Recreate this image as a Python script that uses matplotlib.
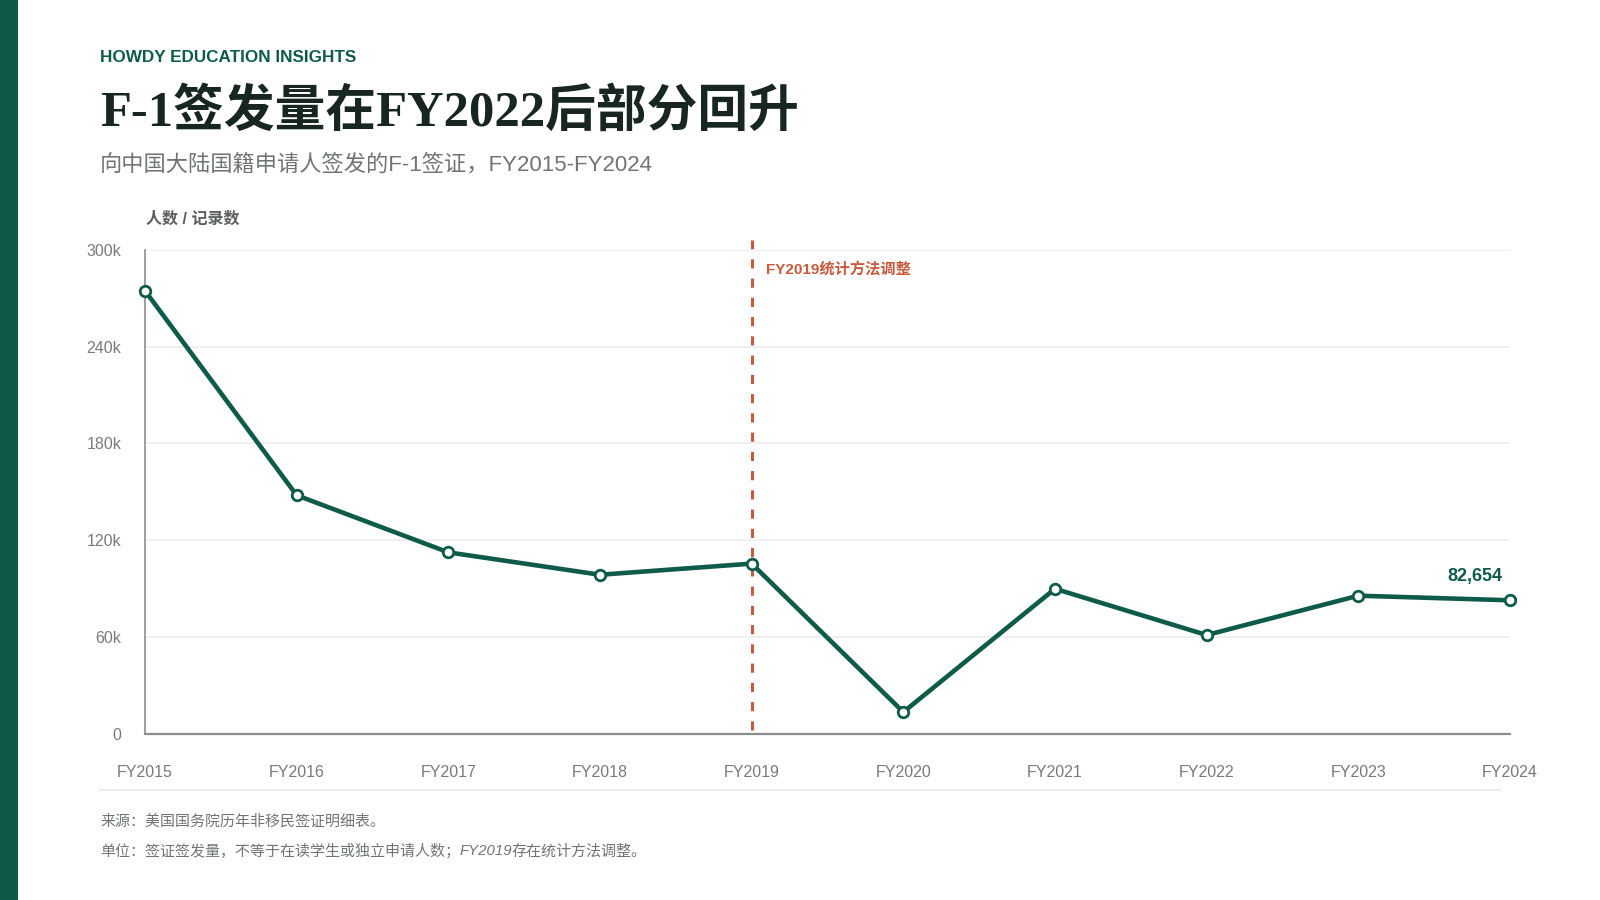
import matplotlib
matplotlib.use("Agg")
import matplotlib.pyplot as plt
from matplotlib.patches import Rectangle
from matplotlib.lines import Line2D

# ---- data ----
years = ["FY2015", "FY2016", "FY2017", "FY2018", "FY2019",
         "FY2020", "FY2021", "FY2022", "FY2023", "FY2024"]
visas = [274700, 147800, 112400, 98500, 105400, 13300, 89800, 61100, 85500, 82654]
y_ticks = [0, 60000, 120000, 180000, 240000, 300000]
y_tick_labels = ["0", "60k", "120k", "180k", "240k", "300k"]

kicker = "HOWDY EDUCATION INSIGHTS"
title = "F-1签发量在FY2022后部分回升"
subtitle = "向中国大陆国籍申请人签发的F-1签证，FY2015-FY2024"
y_label = "人数 / 记录数"
event_year = "FY2019"
event_label = "FY2019统计方法调整"
source_note = "来源：美国国务院历年非移民签证明细表。"
unit_note_a = "单位：签证签发量，不等于在读学生或独立申请人数；"
unit_note_b = "FY2019"
unit_note_c = "存在统计方法调整。"

GREEN = "#0f5b49"
DARK = "#17261f"
GREY = "#6f7572"
CORAL = "#c65b40"

SANS = ["Liberation Sans", "Noto Sans CJK SC", "DejaVu Sans"]
SERIF = ["Liberation Serif", "Noto Sans CJK SC", "DejaVu Sans"]
plt.rcParams["font.family"] = SANS

W, H = 1600, 900
fig = plt.figure(figsize=(16, 9), dpi=100)
fig.patch.set_facecolor("white")

def fx(px):
    return px / W

def fy(py):
    return 1 - py / H

# left brand bar
fig.add_artist(Rectangle((0, 0), fx(18), 1, transform=fig.transFigure,
                         facecolor="#0e5a48", edgecolor="none"))

# header texts
fig.text(fx(100), fy(57), kicker, fontsize=12.3, fontweight="bold",
         color=GREEN, va="center", ha="left", family=SANS)
fig.text(fx(100), fy(112), title, fontsize=36.5, fontweight="bold",
         color=DARK, va="center", ha="left", family=SERIF)
fig.text(fx(100), fy(165), subtitle, fontsize=16, color=GREY,
         va="center", ha="left", family=SANS)
fig.text(fx(146), fy(219), y_label, fontsize=11.5, fontweight="bold",
         color="#5a5f5c", va="center", ha="left", family=SANS)

# axes
left, right = 145, 1510
top, bottom = 250, 733.5
ax = fig.add_axes([fx(left), fy(bottom), fx(right - left), (bottom - top) / H])
x = list(range(len(years)))
ax.set_xlim(0, len(years) - 1)
ax.set_ylim(0, 300000)

ax.set_yticks(y_ticks)
ax.set_yticklabels(y_tick_labels)
ax.set_xticks(x)
ax.set_xticklabels(years)
ax.tick_params(axis="y", length=0, pad=17, labelsize=11.5, labelcolor="#777b79")
ax.tick_params(axis="x", length=0, pad=22.5, labelsize=11.5, labelcolor="#777b79")
ax.grid(axis="y", color="#ebebeb", linewidth=1.1)
ax.set_axisbelow(True)
for s in ("top", "right"):
    ax.spines[s].set_visible(False)
ax.spines["left"].set_color("#8a8d8b")
ax.spines["left"].set_linewidth(1.2)
ax.spines["bottom"].set_color("#8a8d8b")
ax.spines["bottom"].set_linewidth(1.6)

# event line
ei = years.index(event_year)
ax.axvline(ei, ymin=0.007, ymax=1.02, color=CORAL, linewidth=2.2,
           linestyle=(0, (3, 3.3)), clip_on=False, zorder=2)
ax.annotate(event_label, xy=(ei, 1), xycoords=("data", "axes fraction"),
            xytext=(14, -19), textcoords="offset pixels",
            fontsize=11, fontweight="bold", color=CORAL,
            va="center", ha="left", family=SANS)

# series
ax.plot(x, visas, color=GREEN, linewidth=3.3, marker="o", markersize=7.6,
        markerfacecolor="white", markeredgecolor=GREEN, markeredgewidth=2.0,
        clip_on=False, zorder=3)

# last value label
ax.annotate(f"{visas[-1]:,}", xy=(x[-1], visas[-1]), xytext=(-8, 24),
            textcoords="offset pixels", fontsize=13, fontweight="bold",
            color=GREEN, ha="right", va="center", family=SANS)

# separator and notes
fig.add_artist(Line2D([fx(100), fx(1500)], [fy(790), fy(790)],
                      transform=fig.transFigure, color="#ececec", linewidth=1.5))
fig.text(fx(100), fy(822), source_note, fontsize=10.8, color=GREY,
         va="center", ha="left", family=SANS)
t1 = fig.text(fx(100), fy(851), unit_note_a, fontsize=10.8, color=GREY,
              va="center", ha="left", family=SANS)
t2 = fig.text(0, 0, unit_note_b, fontsize=10.8, color=GREY, style="italic",
              va="center", ha="left", family=SANS)
t3 = fig.text(0, 0, unit_note_c, fontsize=10.8, color=GREY,
              va="center", ha="left", family=SANS)

fig.canvas.draw()
r = fig.canvas.get_renderer()
bb1 = t1.get_window_extent(r)
t2.set_position((bb1.x1 / W, fy(851)))
fig.canvas.draw()
bb2 = t2.get_window_extent(r)
t3.set_position((bb2.x1 / W - 1 / W, fy(851)))

fig.savefig("out.png", dpi=100, facecolor="white")
